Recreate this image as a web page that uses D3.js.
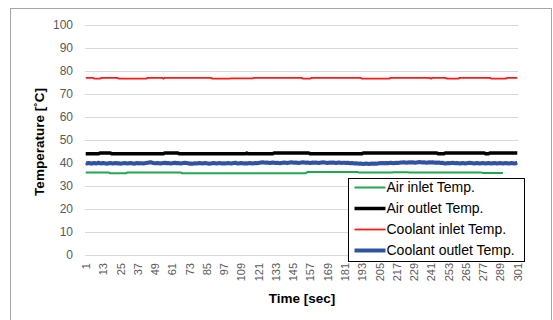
<!DOCTYPE html>
<html>
<head>
<meta charset="utf-8">
<script src="https://cdn.jsdelivr.net/npm/d3@7"></script>
<style>
	body { margin: 0; background: #fff; }
	text { font-family: "Liberation Sans", Arial, sans-serif; }
</style>
</head>
<body>
<div id="chart"></div>
<script>
// time axis (sec) and its labels
var timeSec = d3.range(1, 302);
var tickLabels = [1, 13, 25, 37, 49, 61, 73, 85, 97, 109, 121, 133, 145, 157, 169, 181, 193, 205, 217, 229, 241, 253, 265, 277, 289, 301];
var yTicks = [0, 10, 20, 30, 40, 50, 60, 70, 80, 90, 100];

var seriesNames = ["Air inlet Temp.", "Air outlet Temp.", "Coolant inlet Temp.", "Coolant outlet Temp."];

var airInlet = [
	35.9,35.9,35.9,35.9,35.9,35.9,35.9,35.9,35.9,35.9, 35.9,35.9,35.9,35.9,35.9,35.9,35.9,35.5,35.5,35.5,
	35.5,35.5,35.5,35.5,35.5,35.5,35.5,35.5,35.5,35.9, 35.9,35.9,35.9,35.9,35.9,35.9,35.9,35.9,35.9,35.9,
	35.9,35.9,35.9,35.9,35.9,35.9,35.9,35.9,35.9,35.9, 35.9,35.9,35.9,35.9,35.9,35.9,35.9,35.9,35.9,35.9,
	35.9,35.9,35.9,35.9,35.9,35.9,35.9,35.5,35.5,35.5, 35.5,35.5,35.5,35.5,35.5,35.5,35.5,35.5,35.5,35.5,
	35.5,35.5,35.5,35.5,35.5,35.5,35.5,35.5,35.5,35.5, 35.5,35.5,35.5,35.5,35.5,35.5,35.5,35.5,35.5,35.5,
	35.5,35.5,35.5,35.5,35.5,35.5,35.5,35.5,35.5,35.5, 35.5,35.5,35.5,35.5,35.5,35.5,35.5,35.5,35.5,35.5,
	35.5,35.5,35.5,35.5,35.5,35.5,35.5,35.5,35.5,35.5, 35.5,35.5,35.5,35.5,35.5,35.5,35.5,35.5,35.5,35.5,
	35.5,35.5,35.5,35.5,35.5,35.5,35.5,35.5,35.5,35.5, 35.5,35.5,35.5,35.5,36.1,36.1,36.1,36.1,36.1,36.1,
	36.1,36.1,36.1,36.1,36.1,36.1,36.1,36.1,36.1,36.1, 36.1,36.1,36.1,36.1,36.1,36.1,36.1,36.1,36.1,36.1,
	36.1,36.1,36.1,36.1,36.1,36.1,36.1,36.1,36.1,36.1, 35.9,35.9,35.9,35.9,35.9,35.9,35.9,35.9,35.9,35.9,
	35.9,35.9,35.9,35.9,35.9,35.9,35.9,35.9,35.9,35.9, 35.9,35.9,35.9,35.9,36.0,36.0,36.0,36.0,36.0,36.0,
	36.0,36.0,36.0,36.0,36.0,35.9,35.9,35.9,35.9,35.9, 35.9,35.9,35.9,35.9,35.9,35.9,35.9,35.9,35.9,35.9,
	35.9,35.9,35.9,35.9,35.9,35.9,35.9,35.9,35.9,35.9, 35.9,35.9,35.9,35.9,35.9,35.9,35.9,35.9,35.9,35.9,
	35.9,35.9,35.9,35.9,35.9,35.9,35.9,35.9,35.9,35.9, 35.9,35.9,35.9,35.9,35.9,35.9,35.7,35.7,35.7,35.7,
	35.7,35.7,35.7,35.7,35.7,35.7,35.7,35.7,35.7,35.7, 35.7
];

var airOutlet = [
	44,44,44,44,44,44,44,44,44,44, 44.4,44.4,44.4,44.4,44.4,44.4,44.4,44.4,44,44,
	44,44,44,44,44,44,44,44,44,44, 44,44,44,44,44,44,44,44,44,44,
	44,44,44,44,44,44,44,44,44,44, 44,44,44,44,44,44.4,44.4,44.4,44.4,44.4,
	44.4,44.4,44.4,44.4,44.4,44,44,44,44,44, 44,44,44,44,44,44,44,44,44,44,
	44,44,44,44,44,44,44,44,44,44, 44,44,44,44,44,44,44,44,44,44,
	44,44,44,44,44,44,44,44,44,44, 44,44,44.3,44,44,44,44,44,44,44,
	44,44,44,44,44,44,44,44,44,44, 44,44.4,44.4,44.4,44.4,44.4,44.4,44.4,44.4,44.4,
	44.4,44.4,44.4,44.4,44.4,44.4,44.4,44.4,44.4,44.4, 44.4,44.4,44.4,44.4,44.4,44.4,44,44,44,44,
	44,44,44,44,44,44,44,44,44,44, 44,44,44,44,44,44,44,44,44,44,
	44,44,44,44,44,44,44,44,44,44, 44,44,44,44.4,44.4,44.4,44.4,44.4,44.4,44.4,
	44.4,44.4,44.4,44.4,44.4,44.4,44.4,44.4,44.4,44.4, 44.4,44.4,44.4,44.4,44.4,44.4,44.4,44.4,44.4,44.4,
	44.4,44.4,44.4,44.4,44.4,44.4,44.4,44.4,44.4,44.4, 44.4,44.4,44.4,44.4,44.4,44.4,44.4,44.4,44.4,44.4,
	44.4,44.4,44.4,44.4,44.4,44,44,44,44,44, 44.4,44.4,44.4,44.4,44.4,44.4,44.4,44.4,44.4,44.4,
	44.4,44.4,44.4,44.4,44.4,44.4,44.4,44.4,44.4,44.4, 44.4,44.4,44.4,44.4,44.4,44.4,44.4,44.4,44,44,
	44,44.4,44.4,44.4,44.4,44.4,44.4,44.4,44.4,44.4, 44.4,44.4,44.4,44.4,44.4,44.4,44.4,44.4,44.4,44.4,
	44.4
];

var coolantInlet = [
	77,77,77,77,77,77,76.7,76.7,76.7,76.7, 76.7,77,77,77,77,77,77,77,77,77,
	77,77,77,76.7,76.7,76.7,76.7,76.7,76.7,76.7, 76.7,76.7,76.7,76.7,76.7,76.7,76.7,76.7,76.7,76.7,
	76.7,76.7,76.7,77,77,77,77,77,77,77, 77,77,77,77,76.7,77,77,77,77,77,
	77,77,77,77,77,77,77,77,77,77, 77,77,77,77,77,77,77,77,77,77,
	77,77,77,77,77,77,77,77,76.7,76.7, 76.7,76.7,76.7,76.7,76.7,76.7,76.7,76.7,76.7,76.7,
	76.7,76.8,76.8,76.8,76.8,76.8,76.8,76.8,76.8,76.8, 76.8,76.8,76.8,76.8,76.8,76.8,76.8,77,77,77,
	77,77,77,77,77,77,77,77,77,77, 77,77,77,77,77,77,77,77,77,77,
	77,77,77,77,77,77,77,77,77,77, 77,76.7,76.7,76.7,76.7,76.7,76.7,77,77,77,
	77,77,77,77,77,77,77,77,77,77, 77,77,77,77,77,77,77,77,77,77,
	77,77,77,77,77,77,77,77,77,77, 77,77,76.7,76.7,76.7,76.7,76.7,76.7,76.7,76.7,
	76.7,76.7,76.7,76.7,76.7,76.7,76.7,76.7,76.7,76.7, 76.7,76.7,77,77,77,77,77,77,77,77,
	77,77,77,77,77,77,77,77,77,77, 77,77,77,77,77,77,77,77,77,77,
	76.7,77,77,77,77,77,77,77,77,77, 77,76.7,76.7,76.7,76.7,76.7,76.7,76.7,76.7,76.7,
	77,77,77,77,77,77,77,77,77,77, 77,77,77,77,77,77,77,77,77,77,
	77,77,76.7,76.7,76.7,76.7,76.7,76.7,76.7,76.7, 76.7,76.7,76.7,77,77,77,77,77,77,77,
	77
];

var coolantOutlet = [
	39.9,39.8,40.0,39.9,39.7,39.9,40.0,39.8,39.9,40.1, 39.9,39.8,40.0,39.9,39.8,39.7,39.9,40.0,39.9,39.8,
	39.9,40.0,39.8,39.9,39.7,39.8,39.9,40.0,39.9,39.8, 39.9,40.0,39.9,39.8,39.7,39.9,40.0,39.8,39.9,39.9,
	39.8,39.9,40.0,40.1,40.2,40.3,40.2,40.0,39.9,39.9, 40.0,39.9,39.8,39.9,40.0,40.1,39.9,40.0,39.9,39.8,
	39.9,40.0,40.1,39.9,40.0,39.9,39.8,39.9,40.0,40.1, 40.0,39.9,39.7,39.8,39.7,39.8,39.9,39.8,39.9,40.0,
	39.9,39.8,39.9,40.0,39.9,39.8,39.7,39.8,39.9,40.0, 39.9,39.8,39.9,40.0,39.9,39.8,39.9,39.8,39.9,40.0,
	39.9,39.8,39.9,40.0,40.1,39.9,39.8,39.9,40.0,39.9, 39.8,39.9,39.8,39.9,40.0,39.9,39.8,39.9,40.0,39.9,
	40.0,40.1,40.2,40.3,40.2,40.1,40.2,40.1,40.0,40.1, 40.2,40.1,40.0,40.1,40.0,39.9,40.0,40.1,40.2,40.1,
	40.0,40.1,40.2,40.3,40.2,40.1,40.2,40.1,40.0,40.1, 40.2,40.3,40.2,40.1,40.2,40.1,40.0,40.1,40.2,40.1,
	40.2,40.1,40.0,40.1,40.2,40.3,40.2,40.1,40.0,40.1, 40.2,40.1,40.2,40.1,40.0,40.1,40.2,40.1,40.0,40.1,
	40.1,40.0,40.1,40.0,39.9,40.0,39.9,39.8,39.9,39.8, 39.7,39.8,39.7,39.6,39.7,39.8,39.7,39.6,39.7,39.8,
	39.7,39.8,39.7,39.8,39.9,40.0,39.9,40.0,39.9,40.0, 39.9,40.0,40.1,40.0,39.9,40.0,40.1,40.0,40.1,40.2,
	40.2,40.3,40.2,40.1,40.2,40.3,40.2,40.3,40.2,40.1, 40.2,40.3,40.4,40.3,40.2,40.3,40.2,40.1,40.2,40.3,
	40.2,40.3,40.2,40.1,40.2,40.1,40.2,40.0,40.1,39.9, 39.8,39.9,40.0,39.9,40.0,40.1,40.0,39.9,40.0,39.9,
	39.8,39.9,40.0,39.9,39.8,39.9,40.0,40.1,40.0,39.9, 39.8,39.9,40.0,39.9,39.8,39.9,40.0,39.9,39.8,39.9,
	40.0,39.9,39.8,39.9,40.0,39.9,39.8,39.9,40.0,39.9, 39.8,39.9,40.0,39.9,39.8,39.9,40.0,39.9,39.8,39.9,
	40.0
];

var seriesData = [airInlet, airOutlet, coolantInlet, coolantOutlet];
var colors = ["#1FA84F", "#000000", "#FF1A1A", "#2F52A3"];
var widths = [2, 3.5, 1.8, 4];

var plot = { left: 85, right: 518, top: 25, bottom: 255 };

var svg = d3.select("#chart").append("svg")
	.attr("width", 553)
	.attr("height", 320);

// outer chart border
svg.append("rect")
	.attr("x", 10.5).attr("y", 8.5)
	.attr("width", 541).attr("height", 330)
	.attr("fill", "#fff")
	.attr("stroke", "#A6A6A6");

var x = d3.scalePoint()
	.domain(timeSec)
	.range([plot.left, plot.right])
	.padding(0.5);

var y = d3.scaleLinear()
	.domain([0, 100])
	.range([plot.bottom, plot.top]);

// gridlines + y labels
var yAxis = d3.axisLeft(y)
	.tickValues(yTicks)
	.tickSize(-(plot.right - plot.left))
	.tickPadding(12);
var gy = svg.append("g")
	.attr("transform", "translate(" + plot.left + ",0)")
	.call(yAxis);
gy.select(".domain").remove();
gy.selectAll(".tick line").attr("stroke", "#D9D9D9").attr("stroke-width", 1);
gy.selectAll(".tick text")
	.attr("fill", "#595959")
	.style("font-size", "12px")
	.style("font-family", "Liberation Sans, Arial, sans-serif");

// x labels (rotated)
var xAxis = d3.axisBottom(x)
	.tickValues(tickLabels)
	.tickSize(0)
	.tickPadding(0);
var gx = svg.append("g")
	.attr("transform", "translate(0," + plot.bottom + ")")
	.call(xAxis);
gx.select(".domain").remove();
gx.selectAll(".tick text")
	.attr("fill", "#595959")
	.attr("transform", "rotate(-90)")
	.attr("x", -8)
	.attr("y", 0)
	.attr("dy", "0.35em")
	.attr("text-anchor", "end")
	.style("font-size", "11px")
	.style("font-family", "Liberation Sans, Arial, sans-serif");

// lines
var line = d3.line()
	.x(function (d, i) { return x(timeSec[i]); })
	.y(function (d) { return y(d); });

svg.append("g").selectAll("path.serie")
	.data(seriesData)
	.enter()
	.append("path")
	.attr("class", "serie")
	.attr("d", line)
	.attr("fill", "none")
	.attr("stroke", function (d, i) { return colors[i]; })
	.attr("stroke-width", function (d, i) { return widths[i]; })
	.attr("stroke-linejoin", "round");

// axis titles
svg.append("text")
	.attr("transform", "translate(44," + ((plot.top + plot.bottom) / 2 + 2) + ") rotate(-90)")
	.attr("text-anchor", "middle")
	.style("font-size", "13.5px")
	.style("font-weight", "bold")
	.text("Temperature [˚C]");

svg.append("text")
	.attr("x", 302)
	.attr("y", 303)
	.attr("text-anchor", "middle")
	.style("font-size", "13.5px")
	.style("font-weight", "bold")
	.text("Time [sec]");

// legend
var legend = svg.append("g").attr("transform", "translate(348.5,178.5)");
legend.append("rect")
	.attr("width", 176).attr("height", 83)
	.attr("fill", "#fff")
	.attr("stroke", "#000")
	.attr("stroke-width", 1);

var items = legend.selectAll(".item")
	.data(seriesNames)
	.enter()
	.append("g")
	.attr("class", "item")
	.attr("transform", function (d, i) { return "translate(0," + (9 + i * 21) + ")"; });
items.append("line")
	.attr("x1", 6).attr("x2", 37)
	.attr("stroke", function (d, i) { return colors[i]; })
	.attr("stroke-width", function (d, i) { return widths[i]; });
items.append("text")
	.attr("x", 38)
	.attr("dy", "0.35em")
	.style("font-size", "14px")
	.text(function (d) { return d; });
</script>
</body>
</html>
